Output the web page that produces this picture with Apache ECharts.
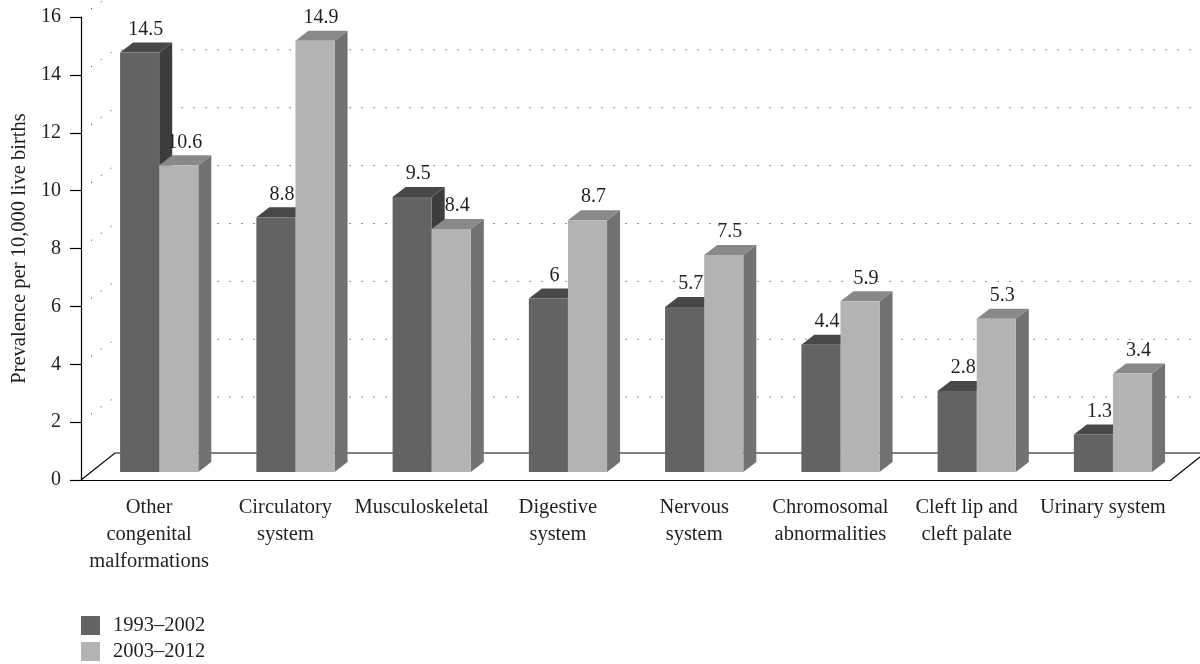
<!DOCTYPE html>
<html>
<head>
<meta charset="utf-8">
<title>Prevalence of congenital anomalies by group</title>
<script src="https://cdn.jsdelivr.net/npm/echarts@6/dist/echarts.min.js"></script>
<style>
  html, body { margin: 0; padding: 0; background: #fff; }
  #chart { width: 1200px; height: 664px; }
</style>
</head>
<body>
<div id="chart"></div>
<script>
// Anomaly groups along the x axis
const categories = [
  'Other\ncongenital\nmalformations',
  'Circulatory\nsystem',
  'Musculoskeletal',
  'Digestive\nsystem',
  'Nervous\nsystem',
  'Chromosomal\nabnormalities',
  'Cleft lip and\ncleft palate',
  'Urinary system'
];

// Prevalence per 10,000 live births for each period
const periodNames = ['1993–2002', '2003–2012'];
const prevalence1993 = [14.5, 8.8, 9.5, 6, 5.7, 4.4, 2.8, 1.3];
const prevalence2003 = [10.6, 14.9, 8.4, 8.7, 7.5, 5.9, 5.3, 3.4];

// Value axis ticks (gridlines drawn on the back wall)
const yTicks = [2, 4, 6, 8, 10, 12, 14, 16];

const FONT = "'Liberation Serif', 'DejaVu Serif', serif";
const TEXT = '#231f20';
const TEXT_SIZE = 20.5;
const NUM_SIZE = 20;

// Shades for the three visible faces of each box
const shades = [
  { front: '#636363', top: '#484848', side: '#3d3d3d' },
  { front: '#b3b3b3', top: '#898989', side: '#727272' }
];

// Pseudo-3D floor/wall depth (pixels)
const FLOOR_DX = 34, FLOOR_DY = -27;
const WALL_DY = -25;
const BAR_DX = 13, BAR_DY = -10;

function boxRenderer(seriesIdx) {
  const c = shades[seriesIdx];
  return function (params, api) {
    const idx = api.value(0);
    const v = api.value(1);
    const base = api.coord([idx, 0]);
    const topPt = api.coord([idx, v]);
    const band = api.size([1, 0])[0];
    const w = band * 0.287;
    const lift = 8;                 // bars stand part way into the floor
    const center = base[0];
    const L = center - band * 0.213 + seriesIdx * w;
    const R = L + w;
    const y0 = base[1] - lift;
    const yT = topPt[1] - lift;
    return {
      type: 'group',
      children: [
        { type: 'polygon', shape: { points: [[R, yT], [R + BAR_DX, yT + BAR_DY], [R + BAR_DX, y0 + BAR_DY], [R, y0]] },
          style: { fill: c.side } },
        { type: 'polygon', shape: { points: [[L, yT], [L + BAR_DX, yT + BAR_DY], [R + BAR_DX, yT + BAR_DY], [R, yT]] },
          style: { fill: c.top } },
        { type: 'rect', shape: { x: L, y: yT, width: w, height: y0 - yT },
          style: { fill: c.front } },
        { type: 'text', x: L + w / 2 + 6, y: yT + BAR_DY - 3,
          style: { text: String(v), font: NUM_SIZE + 'px ' + FONT, fill: TEXT, align: 'center', verticalAlign: 'bottom' } }
      ]
    };
  };
}

function wallRenderer(params, api) {
  const cs = params.coordSys;
  const v = api.value(0);
  const y = api.coord([0, v])[1];
  const x0 = cs.x;
  const x1 = cs.x + cs.width;
  return {
    type: 'polyline',
    shape: { points: [[x0 + 10, y - 8], [x0 + FLOOR_DX, y + WALL_DY], [x1 + FLOOR_DX, y + WALL_DY]] },
    style: { stroke: '#222', lineWidth: 1, lineDash: [1, 11], fill: null }
  };
}

function floorRenderer(params, api) {
  const cs = params.coordSys;
  const y0 = api.coord([0, 0])[1];
  const x0 = cs.x;
  const x1 = cs.x + cs.width;
  return {
    type: 'polyline',
    shape: { points: [[x0, y0], [x0 + FLOOR_DX, y0 + FLOOR_DY], [x1 + FLOOR_DX, y0 + FLOOR_DY], [x1, y0]] },
    style: { stroke: '#000', lineWidth: 1.2, fill: null }
  };
}

// One legend entry per period, stacked in the lower-left corner
function legendRow(name, top) {
  return {
    data: [name],
    left: 81,
    top: top,
    padding: 0,
    itemWidth: 19,
    itemHeight: 19,
    icon: 'rect',
    textStyle: { fontFamily: FONT, fontSize: TEXT_SIZE, color: TEXT, padding: [0, 0, 0, 8] }
  };
}

const chart = echarts.init(document.getElementById('chart'), null, { renderer: 'canvas' });

chart.setOption({
  animation: false,
  backgroundColor: '#fff',
  textStyle: { fontFamily: FONT, color: TEXT },
  grid: { left: 81, right: 29, top: 17, bottom: 184, containLabel: false },
  legend: [legendRow(periodNames[0], 615), legendRow(periodNames[1], 641)],
  xAxis: {
    type: 'category',
    data: categories,
    boundaryGap: true,
    axisLine: { lineStyle: { color: '#000', width: 1.2 } },
    axisTick: { length: 10, lineStyle: { color: '#000', width: 1.2 } },
    axisLabel: { interval: 0, margin: 14, fontFamily: FONT, fontSize: TEXT_SIZE, lineHeight: 27, color: TEXT }
  },
  yAxis: {
    type: 'value',
    min: 0,
    max: 16,
    interval: 2,
    name: 'Prevalence per 10,000 live births',
    nameLocation: 'middle',
    nameGap: 49,
    nameTextStyle: { fontFamily: FONT, fontSize: TEXT_SIZE, color: TEXT },
    axisLine: { show: true, lineStyle: { color: '#000', width: 1.2 } },
    axisTick: { show: true, length: 11, lineStyle: { color: '#000', width: 1.2 } },
    axisLabel: { margin: 20, fontFamily: FONT, fontSize: NUM_SIZE, color: TEXT },
    splitLine: { show: false }
  },
  series: [
    { name: 'wall', type: 'custom', renderItem: wallRenderer, data: yTicks.map(v => [v]), clip: false, silent: true, z: 1 },
    { name: 'floor', type: 'custom', renderItem: floorRenderer, data: [[0]], clip: false, silent: true, z: 1 },
    { name: periodNames[0], type: 'custom', renderItem: boxRenderer(0), clip: false, z: 2,
      itemStyle: { color: shades[0].front },
      encode: { x: 0, y: 1 },
      data: prevalence1993.map((v, i) => [i, v]) },
    { name: periodNames[1], type: 'custom', renderItem: boxRenderer(1), clip: false, z: 3,
      itemStyle: { color: shades[1].front },
      encode: { x: 0, y: 1 },
      data: prevalence2003.map((v, i) => [i, v]) }
  ]
});
</script>
</body>
</html>
